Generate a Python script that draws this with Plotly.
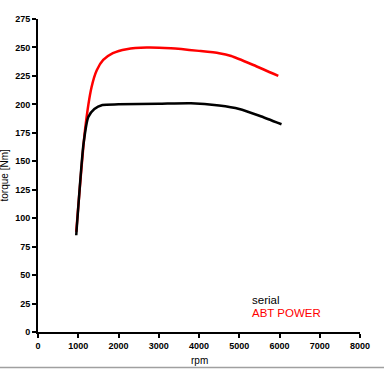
import plotly.graph_objects as go

series_names = ["serial", "ABT POWER"]
series_colors = ["#000000", "#ff0000"]

rpm_serial = [950, 1130, 1250, 1400, 1600, 2000, 3000, 3800, 4500, 5000, 5500, 6050]
torque_serial = [85, 165, 189, 196, 199.5, 200, 200.5, 201, 199, 196, 190, 182.5]

rpm_abt = [950, 1170, 1330, 1460, 1620, 1860, 2200, 2700, 3300, 4000, 4500, 4800, 5350, 5970]
torque_abt = [88, 178, 215, 230, 239, 245, 248.5, 250, 249.3, 247, 245, 242.5, 234.6, 225]

x_ticks = [0, 1000, 2000, 3000, 4000, 5000, 6000, 7000, 8000]
y_ticks = [0, 25, 50, 75, 100, 125, 150, 175, 200, 225, 250, 275]

fig = go.Figure()
fig.add_trace(go.Scatter(x=rpm_abt, y=torque_abt, mode="lines", name=series_names[1],
                         line=dict(color=series_colors[1], width=2.5, shape="spline", smoothing=0.6)))
fig.add_trace(go.Scatter(x=rpm_serial, y=torque_serial, mode="lines", name=series_names[0],
                         line=dict(color=series_colors[0], width=2.5, shape="spline", smoothing=0.6)))

tick_font = dict(family="Liberation Sans, Arial", size=9, color="#000000", weight="bold")
fig.update_layout(
    width=384, height=370,
    margin=dict(l=38, r=24, t=19, b=38),
    paper_bgcolor="white", plot_bgcolor="white",
    showlegend=False,
    font=dict(family="Liberation Sans, Arial", color="#000000"),
    xaxis=dict(range=[0, 8000], tickvals=x_ticks, ticktext=[str(v) for v in x_ticks],
               showgrid=False, zeroline=False, showline=True, linecolor="black", linewidth=2,
               ticks="outside", ticklen=4, tickwidth=2, tickcolor="black",
               tickfont=tick_font, automargin=False),
    yaxis=dict(range=[0, 275], tickvals=y_ticks, ticktext=[str(v) for v in y_ticks],
               showgrid=False, zeroline=False, showline=True, linecolor="black", linewidth=2,
               ticks="outside", ticklen=4, tickwidth=2, tickcolor="black",
               tickfont=tick_font, automargin=False),
)

# axis titles
fig.add_annotation(x=0.5, y=-0.0895, xref="paper", yref="paper", text="rpm", showarrow=False,
                   xanchor="center", yanchor="middle", font=dict(size=10))
fig.add_annotation(x=-0.1025, y=0.5, xref="paper", yref="paper", text="torque [Nm]", showarrow=False,
                   textangle=-90, xanchor="center", yanchor="middle", font=dict(size=10))

fig.add_annotation(x=5270, y=28.5, xref="x", yref="y", text=series_names[0], showarrow=False,
                   xanchor="left", yanchor="middle",
                   font=dict(size=11.5, color=series_colors[0], family="Liberation Sans, Arial"))
fig.add_annotation(x=5270, y=16.5, xref="x", yref="y", text=series_names[1], showarrow=False,
                   xanchor="left", yanchor="middle",
                   font=dict(size=11.5, color=series_colors[1], family="Liberation Sans, Arial"))

fig.add_shape(type="line", xref="paper", yref="paper", x0=-0.12, x1=1.08, y0=-0.1134, y1=-0.1134,
              line=dict(color="#a0a0a0", width=1.5))

fig.write_html("out.html", config={"displayModeBar": False},
               post_script="document.body.style.margin='0';document.body.style.padding='0';document.body.style.overflow='hidden';")
